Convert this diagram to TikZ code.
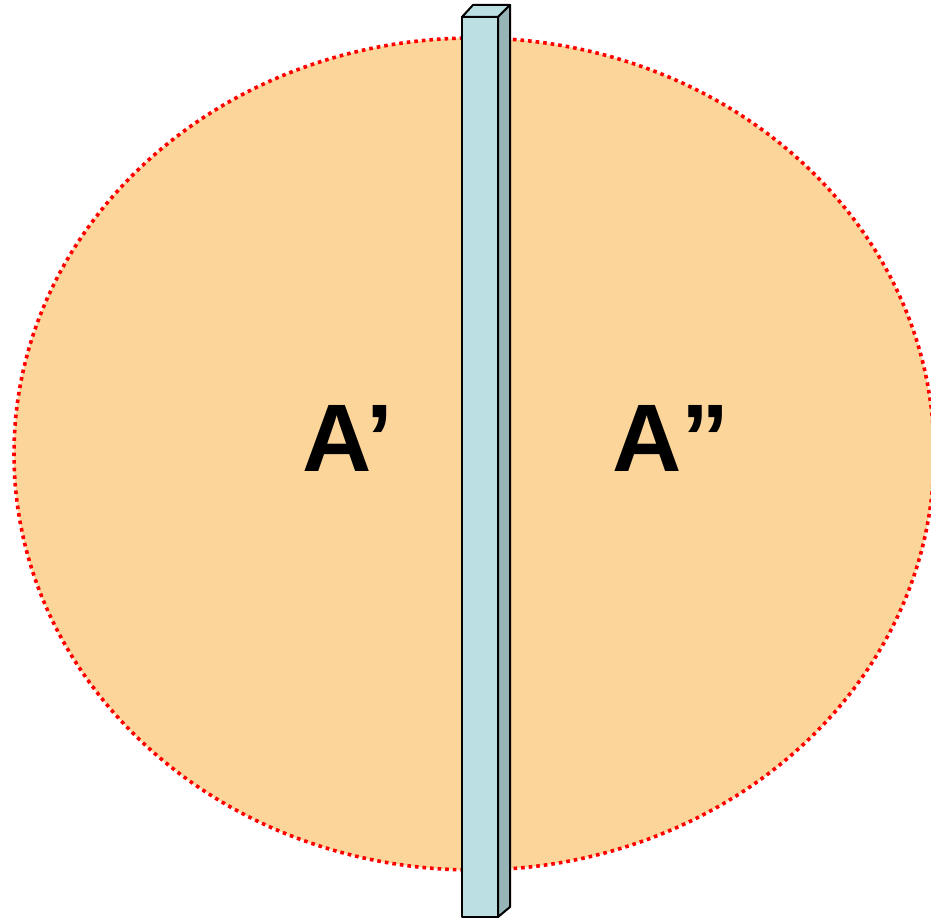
\documentclass[tikz,border=0pt]{standalone}
\usepackage{fontspec}
\setmainfont{Liberation Sans}
\usepackage{tikz}
\definecolor{zarfTuruncu}{HTML}{FCD59B}
\definecolor{cizgiKirmizi}{HTML}{FF0000}
\definecolor{onYuz}{HTML}{BBDFE2}
\definecolor{yanYuz}{HTML}{97B4B7}

\begin{document}
\begin{tikzpicture}[x=1pt,y=1pt,
  etiket/.style={font=\fontsize{96}{96}\selectfont\bfseries,anchor=base,inner sep=0pt},
  duvar/.style={draw=black,line width=2pt,line join=round}]
\useasboundingbox (0,0) rectangle (931,918);
\fill[zarfTuruncu] (474,464) ellipse [x radius=460,y radius=416];
\draw[cizgiKirmizi,line width=3.6pt,dash pattern=on 3.6pt off 4pt] (474,464) ellipse [x radius=460,y radius=416];
\node[etiket] (a1) at (348,446) {A’};
\node[etiket] (a2) at (671,446) {A”};
% ara duvar
\filldraw[duvar,fill=onYuz] (462,1) rectangle (498,901);
\filldraw[duvar,fill=onYuz] (462,901) -- (473,913) -- (510,913) -- (498,901) -- cycle;
\filldraw[duvar,fill=yanYuz] (498,901) -- (510,913) -- (510,11) -- (498,1) -- cycle;
\end{tikzpicture}
\end{document}
